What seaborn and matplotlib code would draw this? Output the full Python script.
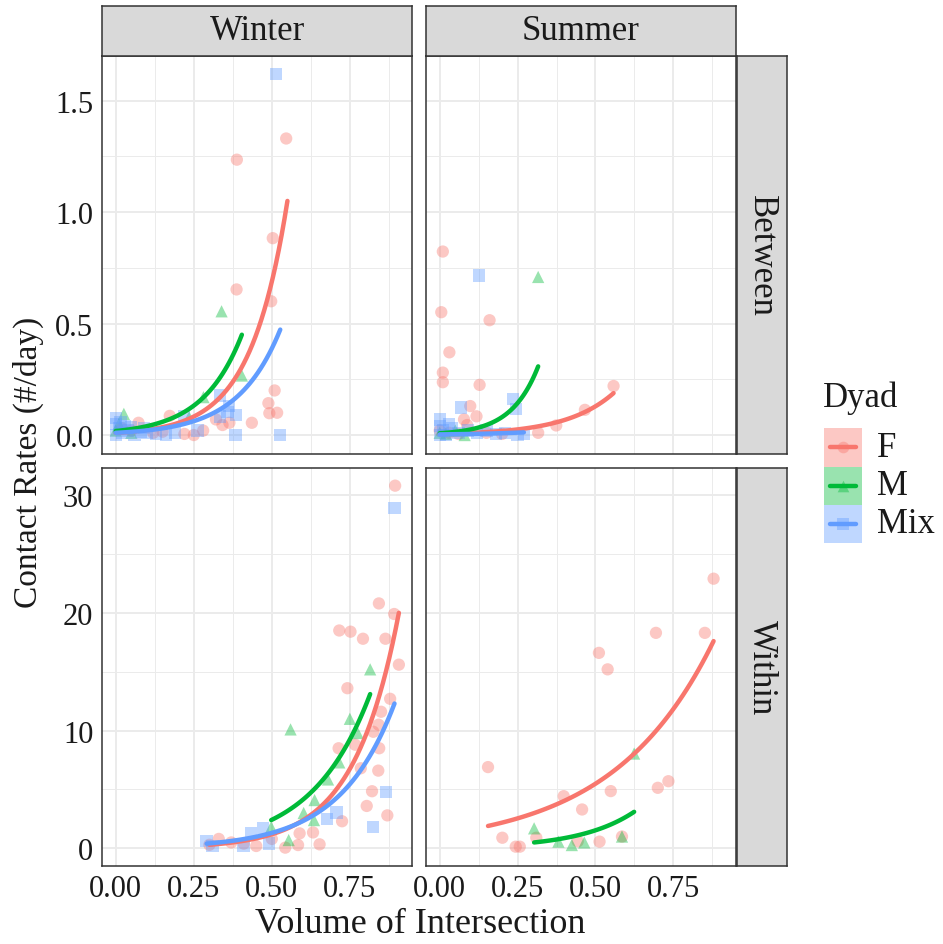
import numpy as np
import pandas as pd
import matplotlib
matplotlib.use("Agg")
import matplotlib.pyplot as plt
from matplotlib.patches import Rectangle
from matplotlib.ticker import MultipleLocator, FormatStrFormatter
import seaborn as sns

# ---- data ----
seasons = ["Winter", "Summer"]
types = ["Between", "Within"]
dyads = ["F", "M", "Mix"]

# Winter / Between
wb_f_x = [0.546, 0.388, 0.503, 0.387, 0.498, 0.509, 0.489, 0.492, 0.517, 0.436, 0.321, 0.342,
          0.364, 0.173, 0.073, 0.25, 0.22, 0.05, 0.12, 0.15, 0.02, 0.28]
wb_f_y = [1.33, 1.235, 0.883, 0.653, 0.60, 0.20, 0.143, 0.098, 0.10, 0.055, 0.07, 0.045,
          0.055, 0.086, 0.055, 0.0, 0.005, 0.02, 0.01, 0.015, 0.03, 0.02]
wb_m_x = [0.339, 0.404, 0.281, 0.026, 0.235, 0.0, 0.01, 0.05]
wb_m_y = [0.555, 0.267, 0.17, 0.095, 0.08, 0.02, 0.05, 0.01]
wb_mix_x = [0.514, 0.334, 0.385, 0.384, 0.527, 0.358, 0.363, 0.333, 0.262, 0.218, 0.0, 0.0,
            0.01, 0.02, 0.04, 0.06, 0.08, 0.10, 0.13, 0.16, 0.19, 0.03, 0.0, 0.015, 0.05, 0.09]
wb_mix_y = [1.62, 0.177, 0.09, 0.0, 0.0, 0.105, 0.13, 0.083, 0.02, 0.083, 0.075, 0.05,
            0.03, 0.01, 0.02, 0.0, 0.015, 0.01, 0.005, 0.0, 0.01, 0.04, 0.0, 0.06, 0.035, 0.03]

# Summer / Between
sb_f_x = [0.01, 0.005, 0.16, 0.031, 0.01, 0.01, 0.128, 0.558, 0.098, 0.078, 0.118, 0.088,
          0.466, 0.374, 0.316, 0.0, 0.03, 0.06, 0.15, 0.20]
sb_f_y = [0.823, 0.551, 0.515, 0.371, 0.28, 0.237, 0.225, 0.22, 0.13, 0.07, 0.084, 0.045,
          0.113, 0.043, 0.01, 0.02, 0.01, 0.005, 0.01, 0.005]
sb_m_x = [0.316, 0.0, 0.02, 0.05, 0.08]
sb_m_y = [0.709, 0.01, 0.005, 0.02, 0.0]
sb_mix_x = [0.127, 0.236, 0.245, 0.069, 0.0, 0.0, 0.01, 0.02, 0.04, 0.06, 0.09, 0.12, 0.15,
            0.18, 0.21, 0.25, 0.27, 0.03, 0.0]
sb_mix_y = [0.716, 0.162, 0.116, 0.123, 0.07, 0.04, 0.02, 0.0, 0.03, 0.01, 0.02, 0.01, 0.02,
            0.005, 0.01, 0.0, 0.005, 0.05, 0.0]

# Winter / Within
ww_f_x = [0.895, 0.843, 0.892, 0.716, 0.752, 0.792, 0.864, 0.907, 0.742, 0.879, 0.85, 0.842,
          0.825, 0.767, 0.714, 0.844, 0.785, 0.841, 0.821, 0.804, 0.87, 0.725, 0.632, 0.589,
          0.653, 0.584, 0.543, 0.33, 0.41, 0.45, 0.50, 0.37, 0.30]
ww_f_y = [30.8, 20.8, 19.9, 18.5, 18.4, 17.8, 17.8, 15.6, 13.6, 12.7, 11.6, 10.5,
          9.9, 8.8, 8.5, 8.5, 6.8, 6.6, 4.85, 3.6, 2.8, 2.3, 1.35, 1.27,
          0.34, 0.28, 0.06, 0.8, 0.4, 0.2, 0.8, 0.5, 0.3]
ww_m_x = [0.815, 0.75, 0.56, 0.775, 0.716, 0.68, 0.637, 0.602, 0.635, 0.554, 0.498]
ww_m_y = [15.2, 11.0, 10.1, 9.8, 7.3, 5.85, 4.1, 3.0, 2.4, 0.7, 1.8]
ww_mix_x = [0.893, 0.866, 0.707, 0.677, 0.825, 0.471, 0.434, 0.291, 0.31, 0.409, 0.492]
ww_mix_y = [28.9, 4.8, 3.05, 2.5, 1.8, 1.7, 1.27, 0.65, 0.2, 0.23, 0.42]

# Summer / Within
sw_f_x = [0.879, 0.694, 0.851, 0.511, 0.539, 0.155, 0.734, 0.70, 0.549, 0.398, 0.457, 0.201,
          0.244, 0.257, 0.31, 0.443, 0.513, 0.585]
sw_f_y = [22.9, 18.3, 18.3, 16.6, 15.2, 6.9, 5.7, 5.14, 4.86, 4.43, 3.3, 0.9,
          0.14, 0.14, 0.9, 0.6, 0.57, 1.0]
sw_m_x = [0.624, 0.303, 0.381, 0.424, 0.464, 0.585]
sw_m_y = [8.05, 1.7, 0.57, 0.28, 0.5, 1.0]

# fitted exponential curves (start / end)
fit_season = ["Winter", "Winter", "Winter", "Summer", "Summer", "Summer",
              "Winter", "Winter", "Winter", "Summer", "Summer"]
fit_type = ["Between"] * 6 + ["Within"] * 5
fit_dyad = ["F", "M", "Mix", "F", "M", "Mix", "F", "M", "Mix", "F", "M"]
fit_x0 = [0.0, 0.0, 0.0, 0.0, 0.0, 0.0, 0.30, 0.498, 0.291, 0.155, 0.303]
fit_x1 = [0.55, 0.404, 0.527, 0.558, 0.316, 0.27, 0.907, 0.815, 0.893, 0.879, 0.624]
fit_y0 = [0.01, 0.018, 0.01, 0.005, 0.008, 0.003, 0.3, 2.4, 0.4, 1.9, 0.5]
fit_y1 = [1.05, 0.45, 0.473, 0.188, 0.308, 0.012, 20.0, 13.1, 12.3, 17.6, 3.1]

# ---- build tables ----
groups = [
    ("Winter", "Between", "F", wb_f_x, wb_f_y), ("Winter", "Between", "M", wb_m_x, wb_m_y),
    ("Winter", "Between", "Mix", wb_mix_x, wb_mix_y),
    ("Summer", "Between", "F", sb_f_x, sb_f_y), ("Summer", "Between", "M", sb_m_x, sb_m_y),
    ("Summer", "Between", "Mix", sb_mix_x, sb_mix_y),
    ("Winter", "Within", "F", ww_f_x, ww_f_y), ("Winter", "Within", "M", ww_m_x, ww_m_y),
    ("Winter", "Within", "Mix", ww_mix_x, ww_mix_y),
    ("Summer", "Within", "F", sw_f_x, sw_f_y), ("Summer", "Within", "M", sw_m_x, sw_m_y),
]
rows = []
for s, t, d, xs, ys in groups:
    for xv, yv in zip(xs, ys):
        rows.append((s, t, d, xv, yv))
pts = pd.DataFrame(rows, columns=["season", "type", "dyad", "x", "y"])

crows = []
for s, t, d, x0, x1, y0, y1 in zip(fit_season, fit_type, fit_dyad, fit_x0, fit_x1, fit_y0, fit_y1):
    xs = np.linspace(x0, x1, 60)
    ys = np.geomspace(y0, y1, 60)
    for xv, yv in zip(xs, ys):
        crows.append((s, t, d, xv, yv))
curves = pd.DataFrame(crows, columns=["season", "type", "dyad", "x", "y"])

# ---- style ----
sns.set_style("white")
plt.rcParams["font.family"] = ["Liberation Serif", "DejaVu Serif"]
palette = {"F": "#F8766D", "M": "#00BA38", "Mix": "#619CFF"}
markers = {"F": "o", "M": "^", "Mix": "s"}
border = "#333333"
grid_c = "#EBEBEB"
txt_c = "#1a1a1a"

W, H = 943, 945
fig = plt.figure(figsize=(W / 100, H / 100), dpi=100)

def box(x0, y0, x1, y1):
    return [x0 / W, 1 - y1 / H, (x1 - x0) / W, (y1 - y0) / H]

col_x = [(101.7, 412.3), (425.7, 735.7)]
row_y = [(57, 455), (469, 867)]
ylims = {"Between": (-0.085, 1.70), "Within": (-1.5, 32.3)}
ymaj = {"Between": 0.5, "Within": 10}

for ri, t in enumerate(types):
    for ci, s in enumerate(seasons):
        ax = fig.add_axes(box(col_x[ci][0], row_y[ri][0], col_x[ci][1], row_y[ri][1]))
        sub = pts[(pts.season == s) & (pts.type == t)]
        sns.scatterplot(data=sub, x="x", y="y", hue="dyad", style="dyad",
                        hue_order=dyads, style_order=dyads, palette=palette,
                        markers=markers, s=78, alpha=0.4, linewidth=0,
                        legend=False, ax=ax, zorder=3)
        csub = curves[(curves.season == s) & (curves.type == t)]
        for d in dyads:
            cd = csub[csub.dyad == d]
            if len(cd):
                sns.lineplot(data=cd, x="x", y="y", color=palette[d], lw=3.2,
                             estimator=None, sort=False, ax=ax, zorder=4)
        ax.set_xlim(-0.045, 0.95)
        ax.set_ylim(*ylims[t])
        ax.xaxis.set_major_locator(MultipleLocator(0.25))
        ax.xaxis.set_minor_locator(MultipleLocator(0.125))
        ax.yaxis.set_major_locator(MultipleLocator(ymaj[t]))
        ax.yaxis.set_minor_locator(MultipleLocator(ymaj[t] / 2))
        ax.grid(which="major", color=grid_c, lw=1.4, zorder=0)
        ax.grid(which="minor", color=grid_c, lw=0.7, zorder=0)
        ax.set_axisbelow(True)
        for sp in ax.spines.values():
            sp.set_color(border)
            sp.set_linewidth(1.1)
        ax.set_xlabel("")
        ax.set_ylabel("")
        ax.tick_params(which="minor", length=0)
        ax.tick_params(which="major", length=4, width=1, color=border,
                       labelsize=22, labelcolor=txt_c, pad=2)
        if t == "Between":
            ax.yaxis.set_major_formatter(FormatStrFormatter("%.1f"))
        else:
            ax.yaxis.set_major_formatter(FormatStrFormatter("%d"))
        ax.xaxis.set_major_formatter(FormatStrFormatter("%.2f"))
        if ci != 0:
            ax.tick_params(axis="y", length=0, labelleft=False)
        if ri != 1:
            ax.tick_params(axis="x", length=0, labelbottom=False)

# strips
def strip(rect, label, rot):
    sax = fig.add_axes(rect)
    sax.set_facecolor("#D9D9D9")
    sax.set_xticks([])
    sax.set_yticks([])
    for sp in sax.spines.values():
        sp.set_color(border)
        sp.set_linewidth(1.1)
    sax.text(0.5, 0.5, label, ha="center", va="center", fontsize=25, color=txt_c,
             rotation=rot, transform=sax.transAxes)

for ci, s in enumerate(seasons):
    strip(box(col_x[ci][0], 7, col_x[ci][1], 57), s, 0)
for ri, t in enumerate(types):
    strip(box(736.7, row_y[ri][0], 786.7, row_y[ri][1]), t, -90)

# axis titles
fig.text(420 / W, 1 - 925 / H, "Volume of Intersection", ha="center", va="center",
         fontsize=26, color=txt_c)
fig.text(28 / W, 1 - 462 / H, "Contact Rates (#/day)", ha="center", va="center",
         rotation=90, fontsize=24, color=txt_c)

# legend (drawn as keys like ggplot)
fig.text(823 / W, 1 - 398 / H, "Dyad", ha="left", va="center", fontsize=25, color=txt_c)
lax = fig.add_axes(box(824, 429.3, 862, 544))
lax.set_xlim(0, 1)
lax.set_ylim(3, 0)
lax.axis("off")
for i, d in enumerate(dyads):
    lax.add_patch(Rectangle((0, i), 1, 1, facecolor=palette[d], alpha=0.4,
                            edgecolor="none"))
    lax.scatter([0.5], [i + 0.5], marker=markers[d], s=70, color=palette[d],
                alpha=0.4, linewidths=0, zorder=3)
    lax.plot([0.15, 0.85], [i + 0.5, i + 0.5], color=palette[d], lw=3.2, zorder=4)
    fig.text(877 / W, 1 - (429.3 + 38.2 * i + 19) / H, d, ha="left", va="center",
             fontsize=25, color=txt_c)

fig.savefig("out.png", dpi=100)
